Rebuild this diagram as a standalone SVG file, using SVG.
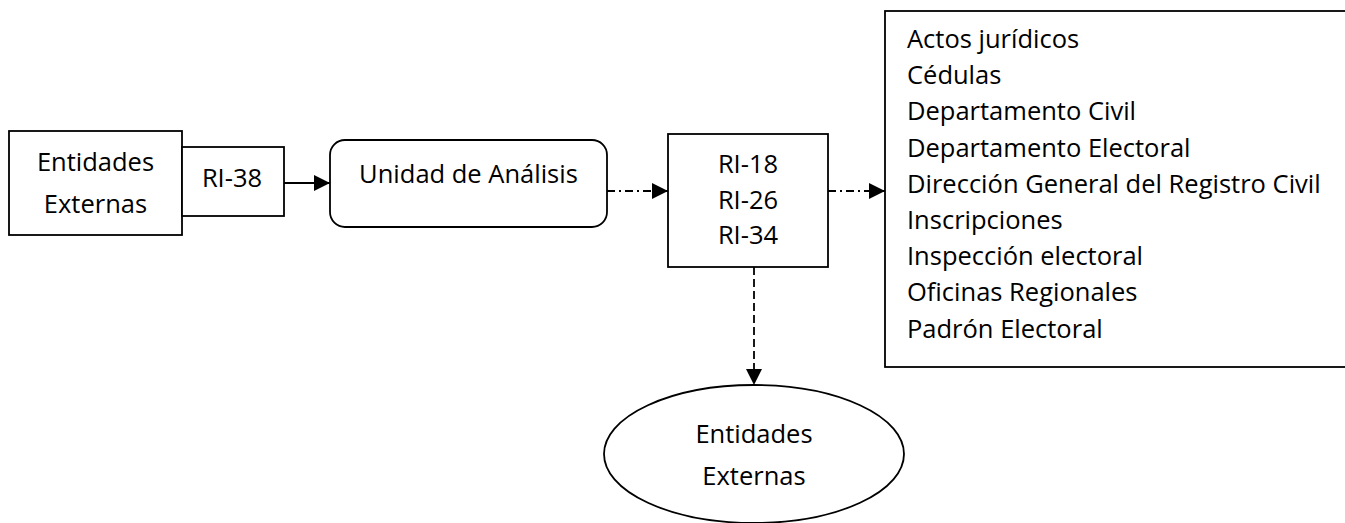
<svg xmlns="http://www.w3.org/2000/svg" width="1345" height="523" viewBox="0 0 1345 523">
  <style>
    .shape { fill: #ffffff; stroke: #000000; stroke-width: 1.8; }
    .label { font-family: "Open Sans", "Noto Sans", sans-serif; font-size: 25.5px; fill: #000000; }
    .mid { text-anchor: middle; }
    .solid { stroke: #000000; stroke-width: 1.8; fill: none; }
    .dashdot { stroke: #000000; stroke-width: 1.8; fill: none; stroke-dasharray: 8 4 2 4; }
    .dashed { stroke: #000000; stroke-width: 1.8; fill: none; stroke-dasharray: 8 4; }
  </style>
  <defs>
    <marker id="arrow" viewBox="0 0 16 16" refX="16" refY="8" markerWidth="16" markerHeight="16" markerUnits="userSpaceOnUse" orient="auto">
      <path d="M0,0 L16,8 L0,16 Z" fill="#000000"/>
    </marker>
  </defs>
  <rect width="1345" height="523" fill="#ffffff"/>

  <g id="connectors">
    <line class="solid" x1="284" y1="183" x2="330" y2="183" marker-end="url(#arrow)"/>
    <line class="dashdot" x1="607" y1="191" x2="668" y2="191" marker-end="url(#arrow)"/>
    <line class="dashdot" x1="828" y1="191" x2="885" y2="191" marker-end="url(#arrow)"/>
    <line class="dashed" x1="754" y1="267" x2="754" y2="385" marker-end="url(#arrow)"/>
  </g>

  <g id="entidades-externas-origen">
    <rect class="shape" x="9" y="131" width="173" height="104"/>
    <text class="label mid" x="95.5" y="171">Entidades</text>
    <text class="label mid" x="95.5" y="213">Externas</text>
  </g>

  <g id="ri-38">
    <rect class="shape" x="182" y="147" width="102" height="69"/>
    <text class="label mid" x="232" y="187">RI-38</text>
  </g>

  <g id="unidad-analisis">
    <rect class="shape" x="330" y="140" width="277" height="87" rx="15" ry="15"/>
    <text class="label mid" x="468.5" y="183">Unidad de Análisis</text>
  </g>

  <g id="ri-reportes">
    <rect class="shape" x="668" y="134" width="160" height="133"/>
    <text class="label mid" x="748" y="173">RI-18</text>
    <text class="label mid" x="748" y="208.5">RI-26</text>
    <text class="label mid" x="748" y="244">RI-34</text>
  </g>

  <g id="dependencias">
    <rect class="shape" x="885" y="11" width="470" height="356"/>
    <text class="label" x="907" y="48">Actos jurídicos</text>
    <text class="label" x="907" y="84.2">Cédulas</text>
    <text class="label" x="907" y="120.4">Departamento Civil</text>
    <text class="label" x="907" y="156.6">Departamento Electoral</text>
    <text class="label" x="907" y="192.8">Dirección General del Registro Civil</text>
    <text class="label" x="907" y="229">Inscripciones</text>
    <text class="label" x="907" y="265.2">Inspección electoral</text>
    <text class="label" x="907" y="301.4">Oficinas Regionales</text>
    <text class="label" x="907" y="337.6">Padrón Electoral</text>
  </g>

  <g id="entidades-externas-destino">
    <ellipse class="shape" cx="754" cy="454" rx="150" ry="69"/>
    <text class="label mid" x="754" y="443">Entidades</text>
    <text class="label mid" x="754" y="485">Externas</text>
  </g>
</svg>
